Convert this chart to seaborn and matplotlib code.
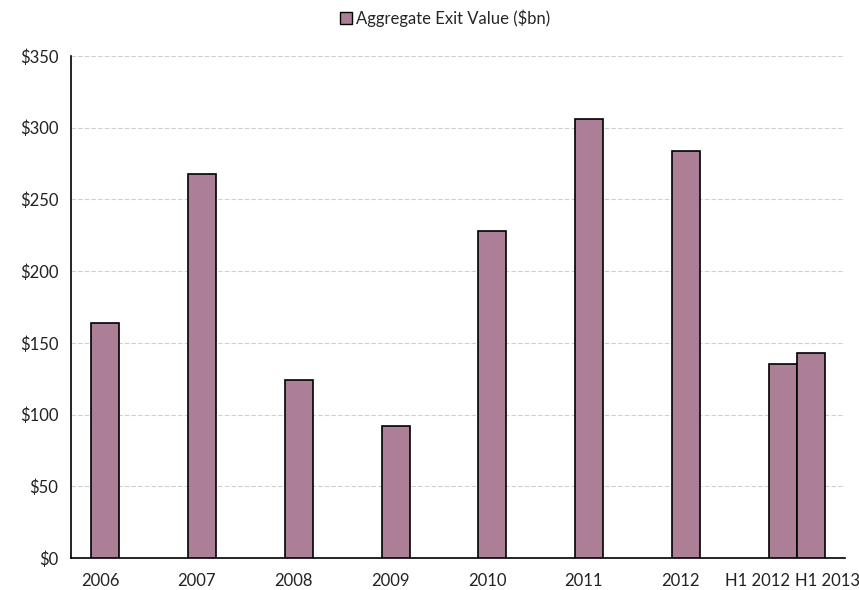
import matplotlib
matplotlib.use("Agg")
import matplotlib.pyplot as plt
import seaborn as sns
import pandas as pd
from matplotlib.patches import Patch

# Data
labels = ["2006", "2007", "2008", "2009", "2010", "2011", "2012", "H1 2012", "H1 2013"]
values = [164, 268, 124, 92, 228, 306, 284, 135, 143]
slots = ["2006", "2007", "2008", "2009", "2010", "2011", "2012", "H1", "H1"]
groups = ["a", "a", "a", "a", "a", "a", "a", "a", "b"]
series_name = "Aggregate Exit Value ($bn)"
yticks = [0, 50, 100, 150, 200, 250, 300, 350]

# label positions (slot index + offset) for tick labels
label_slot = [0, 1, 2, 3, 4, 5, 6, 7, 7]
label_offset = [-0.2, -0.2, -0.2, -0.2, -0.2, -0.2, -0.2, -0.40, 0.32]

color = "#AD7F97"

sns.set_theme(style="white")
plt.rcParams["font.family"] = ["Lato", "DejaVu Sans"]

df = pd.DataFrame({"slot": slots, "value": values, "grp": groups})

fig = plt.figure(figsize=(8.59, 5.90), dpi=100)
ax = fig.add_axes([71 / 859, 1 - 558 / 590, (845 - 71) / 859, (558 - 56) / 590])

sns.barplot(data=df, x="slot", y="value", hue="grp", order=list(dict.fromkeys(slots)),
            hue_order=["a", "b"], palette=[color, color], saturation=1, dodge=True, width=0.58,
            edgecolor="black", linewidth=1.2, legend=False, ax=ax, zorder=3)

ax.set_xlim(-0.5, 7.5)
ax.set_ylim(0, 350)
ax.set_yticks(yticks)
ax.set_yticklabels([f"${v}" for v in yticks], fontsize=12, color="#222222")
ax.tick_params(axis="y", length=0, pad=9)

# x ticks: marks at slot boundaries, labels via minor ticks
ax.set_xticks([i - 0.5 for i in range(9)])
ax.set_xticklabels([])
ax.tick_params(axis="x", which="major", length=4, width=0.8, color="#999999", direction="out")
ax.set_xticks([s + o for s, o in zip(label_slot, label_offset)], minor=True)
ax.set_xticklabels(labels, minor=True, fontsize=12, color="#222222")
ax.tick_params(axis="x", which="minor", length=0, pad=11)

ax.set_xlabel("")
ax.set_ylabel("")
ax.yaxis.grid(True, linestyle=(0, (4, 2)), color="#d0d0d0", linewidth=0.8, zorder=0)
ax.xaxis.grid(False)
ax.set_axisbelow(True)

for s in ["top", "right"]:
    ax.spines[s].set_visible(False)
for s in ["left", "bottom"]:
    ax.spines[s].set_color("black")
    ax.spines[s].set_linewidth(1.2)

handle = Patch(facecolor=color, edgecolor="black", linewidth=1.0)
fig.legend([handle], [series_name], loc="center", bbox_to_anchor=(0.518, 1 - 18 / 590),
           frameon=False, fontsize=12, handlelength=0.75, handleheight=0.75,
           handletextpad=0.2)

fig.savefig("out.png", dpi=100)
